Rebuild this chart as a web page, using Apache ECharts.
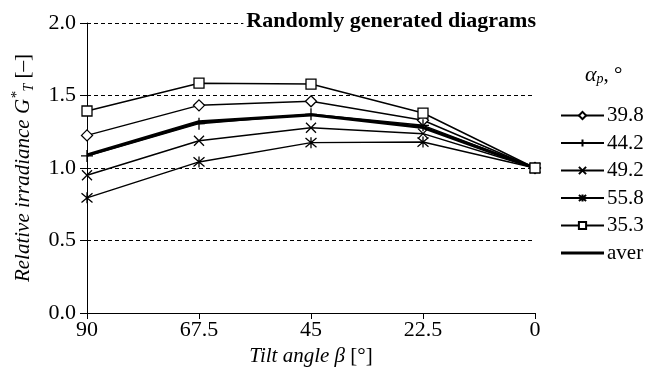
<!DOCTYPE html>
<html>
<head>
<meta charset="utf-8">
<script src="https://cdn.jsdelivr.net/npm/echarts@6/dist/echarts.min.js"></script>
<style>html,body{margin:0;padding:0;background:#fff}#c{width:661px;height:377px}</style>
</head>
<body>
<div id="c"></div>
<script>
const categories = ['90', '67.5', '45', '22.5', '0'];
const yTicks = [0, 0.5, 1.0, 1.5, 2.0];
const seriesNames = ['39.8', '44.2', '49.2', '55.8', '35.3', 'aver'];
const s398 = [1.225, 1.432, 1.460, 1.329, 1.0];
const s442 = [1.083, 1.306, 1.370, 1.294, 1.0];
const s492 = [0.950, 1.188, 1.278, 1.237, 1.0];
const s558 = [0.794, 1.042, 1.175, 1.179, 1.0];
const s353 = [1.393, 1.585, 1.579, 1.379, 1.0];
const aver = [1.090, 1.318, 1.367, 1.280, 1.0];

const FONT = 'Liberation Serif';
const chart = echarts.init(document.getElementById('c'), null, {renderer: 'canvas'});

function mk(name, data, symbol, size) {
  return {
    name: name, type: 'line', data: data,
    symbol: symbol, symbolSize: size, showAllSymbol: true,
    lineStyle: {color: '#000', width: 1.5},
    itemStyle: {color: '#fff', borderColor: '#000', borderWidth: 1.3},
    emphasis: {disabled: true}, animation: false
  };
}

const legendData = seriesNames.map(n => n === 'aver'
  ? {name: n, icon: 'path://M0,0L43,0L43,3.2L0,3.2Z', itemStyle: {color: '#000', borderWidth: 0}}
  : {name: n});

const option = {
  animation: false,
  backgroundColor: '#fff',
  title: {
    text: 'Randomly generated diagrams',
    right: 125, top: 9,
    padding: [0, 0, 0, 3],
    backgroundColor: '#fff',
    textStyle: {fontFamily: FONT, fontSize: 22, fontWeight: 'bold', color: '#000', lineHeight: 25}
  },
  graphic: [{
    type: 'text', left: 585, top: 64,
    style: {
      text: '{a|α}{p|p}{n|, °}',
      rich: {
        a: {fontFamily: FONT, fontSize: 22, fontStyle: 'italic', fill: '#000'},
        p: {fontFamily: FONT, fontSize: 14, fontStyle: 'italic', fill: '#000', verticalAlign: 'bottom', padding: [8, 0, 0, 0]},
        n: {fontFamily: FONT, fontSize: 21, fill: '#000'}
      }
    }
  }],
  legend: {
    data: legendData,
    orient: 'vertical', left: 555, top: 100,
    itemWidth: 43, itemHeight: 9, itemGap: 6.5,
    textStyle: {fontFamily: FONT, fontSize: 21, color: '#000', padding: [0, 0, 0, -2]},
    selectedMode: false
  },
  grid: {left: 87, right: 126, top: 23, bottom: 64},
  xAxis: {
    type: 'category', data: categories, boundaryGap: false,
    axisLine: {lineStyle: {color: '#000', width: 1}},
    axisTick: {inside: false, length: 6, lineStyle: {color: '#000'}},
    axisLabel: {fontFamily: FONT, fontSize: 22, color: '#000', margin: 6},
    splitLine: {show: false},
    name: '{i|Tilt angle β }{n|[°]}',
    nameLocation: 'middle', nameGap: 33,
    nameTextStyle: {
      rich: {
        i: {fontFamily: FONT, fontSize: 21, fontStyle: 'italic', color: '#000'},
        n: {fontFamily: FONT, fontSize: 21, color: '#000'}
      }
    }
  },
  yAxis: {
    type: 'value', min: 0, max: 2, interval: 0.5,
    axisLine: {show: true, lineStyle: {color: '#000', width: 1}},
    axisTick: {show: true, length: 7, lineStyle: {color: '#000'}},
    axisLabel: {fontFamily: FONT, fontSize: 22, color: '#000', margin: 11,
      formatter: v => (yTicks.indexOf(v) >= 0 ? v.toFixed(1) : '')},
    splitLine: {show: true, lineStyle: {color: '#000', width: 1, type: [4, 3]}},
    name: '{i|Relative irradiance G}{s|*}{t|T}{n| [–]}',
    nameLocation: 'middle', nameGap: 51,
    nameTextStyle: {
      rich: {
        i: {fontFamily: FONT, fontSize: 21, fontStyle: 'italic', color: '#000', lineHeight: 26},
        s: {fontFamily: FONT, fontSize: 15, fontStyle: 'italic', color: '#000', verticalAlign: 'top', lineHeight: 26},
        t: {fontFamily: FONT, fontSize: 14, fontStyle: 'italic', color: '#000', verticalAlign: 'bottom', lineHeight: 26},
        n: {fontFamily: FONT, fontSize: 21, color: '#000', lineHeight: 26}
      }
    }
  },
  series: [
    mk('39.8', s398, 'diamond', 11),
    mk('44.2', s442, 'path://M5,0L5,10M0,5L10,5', 12),
    mk('49.2', s492, 'path://M0,0L10,10M10,0L0,10', 10),
    mk('55.8', s558, 'path://M0,0L10,10M10,0L0,10M5,-1L5,11', 11),
    mk('35.3', s353, 'rect', 10),
    {
      name: 'aver', type: 'line', data: aver, symbol: 'none',
      lineStyle: {color: '#000', width: 3.2},
      itemStyle: {color: '#000'},
      emphasis: {disabled: true}, animation: false
    }
  ]
};
chart.setOption(option);
</script>
</body>
</html>
